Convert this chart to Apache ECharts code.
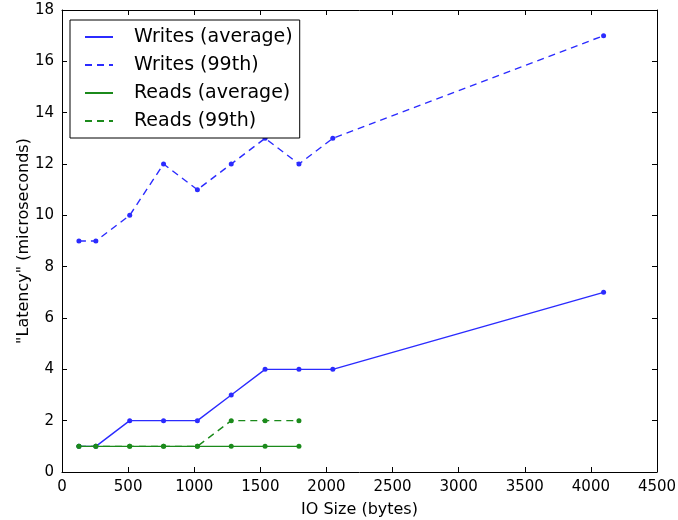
<!DOCTYPE html>
<html>
<head>
<meta charset="utf-8">
<script src="https://cdn.jsdelivr.net/npm/echarts@6/dist/echarts.min.js"></script>
<style>html,body{margin:0;padding:0;background:#fff}</style>
</head>
<body>
<div id="chart" style="width:678px;height:520px"></div>
<script>
// IO sizes (bytes)
const sizes = [128, 256, 512, 768, 1024, 1280, 1536, 1792, 2048, 4096]
const readSizes = [128, 256, 512, 768, 1024, 1280, 1536, 1792]

const writesAvg = [1, 1, 2, 2, 2, 3, 4, 4, 4, 7]
const writes99 = [9, 9, 10, 12, 11, 12, 13, 12, 13, 17]
const readsAvg = [1, 1, 1, 1, 1, 1, 1, 1]
const reads99 = [1, 1, 1, 1, 1, 2, 2, 2]

const BLUE = '#2b2bff'
const GREEN = '#1b8a1b'
const font = 'DejaVu Sans'

function pairs(xs, ys) {
  return xs.map((x, i) => [x, ys[i]])
}

// line only (shows in legend)
function lineSeries(name, xs, ys, color, dashed) {
  return {
    name: name,
    type: 'line',
    data: pairs(xs, ys),
    symbol: 'none',
    itemStyle: { color: color },
    lineStyle: { color: color, width: 1.4, type: dashed ? [7, 5] : 'solid' },
    emphasis: { disabled: true },
    z: 2
  }
}

// the dots on top of each line
function dotSeries(xs, ys, color) {
  return {
    type: 'scatter',
    data: pairs(xs, ys),
    symbol: 'circle',
    symbolSize: 5,
    itemStyle: { color: color, opacity: 1 },
    emphasis: { disabled: true },
    z: 3
  }
}

const tickAxis = {
  axisLine: { onZero: false, lineStyle: { color: '#000', width: 1 } },
  axisTick: { inside: true, length: 5, lineStyle: { color: '#000' } },
  splitLine: { show: false }
}

const option = {
  animation: false,
  textStyle: { fontFamily: font },
  grid: { left: 62, right: 21, top: 10, bottom: 48, outerBoundsMode: 'none' },
  legend: {
    orient: 'vertical',
    left: 70,
    top: 20,
    padding: [7, 7, 7, 14],
    itemWidth: 28,
    itemHeight: 14,
    itemGap: 8,
    borderColor: '#000',
    borderWidth: 1,
    borderRadius: 0,
    backgroundColor: '#fff',
    itemStyle: { opacity: 0 },
    textStyle: { fontFamily: font, fontSize: 19, lineHeight: 20, color: '#000', padding: [0, 0, 0, 16] },
    data: ['Writes (average)', 'Writes (99th)', 'Reads (average)', 'Reads (99th)']
  },
  xAxis: [
    Object.assign({
      type: 'value', min: 0, max: 4500, interval: 500,
      name: 'IO Size (bytes)', nameLocation: 'middle', nameGap: 30,
      nameTextStyle: { fontFamily: font, fontSize: 16, color: '#000' },
      axisLabel: { fontFamily: font, fontSize: 15, color: '#000', margin: 8, formatter: v => String(v) }
    }, tickAxis),
    Object.assign({
      type: 'value', min: 0, max: 4500, interval: 500, position: 'top',
      axisLabel: { show: false }
    }, tickAxis)
  ],
  yAxis: [
    Object.assign({
      type: 'value', min: 0, max: 18, interval: 2,
      name: '"Latency" (microseconds)', nameLocation: 'middle', nameGap: 30,
      nameMoveOverlap: false,
      nameTextStyle: { fontFamily: font, fontSize: 16, color: '#000' },
      axisLabel: { fontFamily: font, fontSize: 15, color: '#000', margin: 8 }
    }, tickAxis),
    Object.assign({
      type: 'value', min: 0, max: 18, interval: 2, position: 'right',
      axisLabel: { show: false }
    }, tickAxis)
  ],
  series: [
    lineSeries('Writes (average)', sizes, writesAvg, BLUE, false),
    lineSeries('Writes (99th)', sizes, writes99, BLUE, true),
    lineSeries('Reads (99th)', readSizes, reads99, GREEN, true),
    lineSeries('Reads (average)', readSizes, readsAvg, GREEN, false),
    dotSeries(sizes, writesAvg, BLUE),
    dotSeries(sizes, writes99, BLUE),
    dotSeries(readSizes, reads99, GREEN),
    dotSeries(readSizes, readsAvg, GREEN)
  ]
}

const chart = echarts.init(document.getElementById('chart'))
chart.setOption(option)
</script>
</body>
</html>
